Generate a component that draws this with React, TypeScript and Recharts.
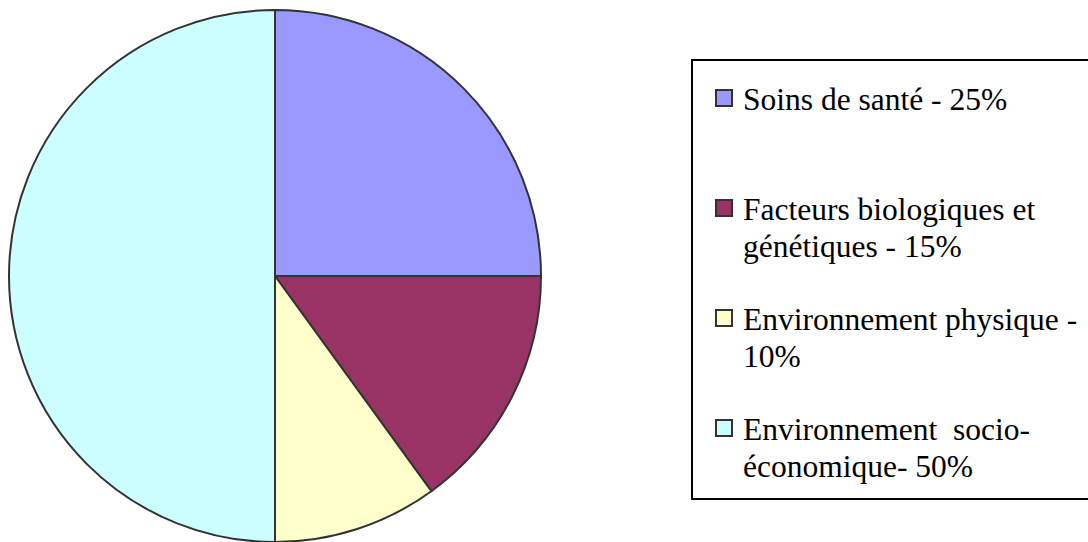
import { Cell, Legend, Pie, PieChart } from "recharts";

const categories = [
  "Soins de santé",
  "Facteurs biologiques et génétiques",
  "Environnement physique",
  "Environnement socio-économique"
];
const shares = [25, 15, 10, 50];
const legendLines = [
  ["Soins de santé - 25%"],
  ["Facteurs biologiques et", "génétiques - 15%"],
  ["Environnement physique -", "10%"],
  ["Environnement\u00a0 socio-", "économique- 50%"]
];
const colors = ["#9999ff", "#993366", "#ffffcc", "#ccffff"];

const data = categories.map((name, index) => ({ name, value: shares[index] }));

const serif = "'Times New Roman', 'Liberation Serif', serif";

// the legend frame runs off the right edge, so it has no right border
function LegendBox({ payload }: { payload?: Array<{ value?: string; color?: string }> }) {
  const items = payload ?? [];
  return (
    <div
      style={{
        position: "relative",
        width: 397,
        height: 437,
        borderTop: "2px solid #000",
        borderBottom: "2px solid #000",
        borderLeft: "2px solid #000",
        background: "#fff",
        fontFamily: serif,
        fontSize: 31.5,
        color: "#000",
        textAlign: "left"
      }}
    >
      {items.map((entry, index) => (
        <div key={String(entry.value)} style={{ position: "absolute", left: 0, top: 20 + index * 110 }}>
          <span
            style={{
              position: "absolute",
              left: 22,
              top: 8,
              width: 14,
              height: 14,
              border: "2px solid #333",
              background: colors[index]
            }}
          />
          <div style={{ position: "absolute", left: 50, top: 0, lineHeight: "37px", whiteSpace: "nowrap" }}>
            {legendLines[index].map((line) => (
              <div key={line}>{line}</div>
            ))}
          </div>
        </div>
      ))}
    </div>
  );
}

export default function App() {
  return (
    <div style={{ position: "absolute", left: 0, top: 0, width: 1088, height: 542, overflow: "hidden", background: "#fff" }}>
      <PieChart width={1088} height={542} margin={{ top: 0, right: 0, bottom: 0, left: 0 }}>
        <Pie
          data={data}
          dataKey="value"
          nameKey="name"
          cx={275}
          cy={276}
          outerRadius={266}
          startAngle={90}
          endAngle={-270}
          stroke="#333"
          strokeWidth={2}
          isAnimationActive={false}
          label={false}
          labelLine={false}
        >
          {data.map((entry, index) => (
            <Cell key={entry.name} fill={colors[index]} />
          ))}
        </Pie>
        <Legend
          content={(props: any) => <LegendBox payload={props.payload} />}
          wrapperStyle={{ position: "absolute", left: 691, top: 59, width: 397, height: 441 }}
        />
      </PieChart>
    </div>
  );
}
